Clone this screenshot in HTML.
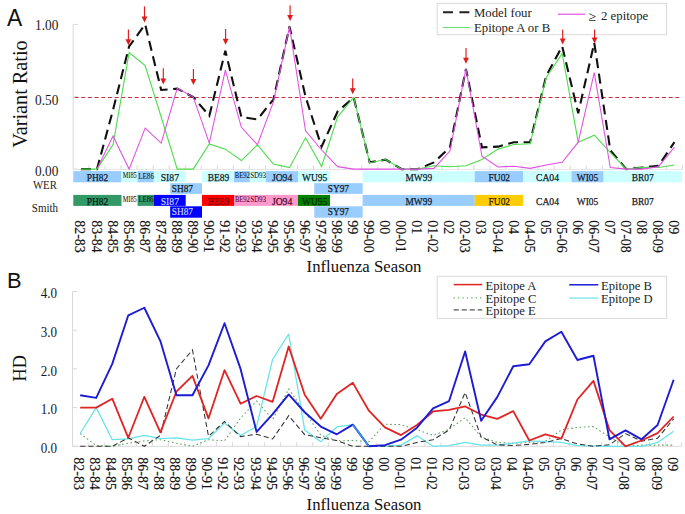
<!DOCTYPE html>
<html><head><meta charset="utf-8"><style>
html,body{margin:0;padding:0;background:#fff;width:685px;height:514px;overflow:hidden;}
svg{display:block;}

</style></head><body>
<svg width="685" height="514" viewBox="0 0 685 514">
<text x="6.9" y="25.8" font-family="Liberation Sans, sans-serif" font-size="23.2" fill="#111" textLength="15.2" lengthAdjust="spacingAndGlyphs">A</text>
<line x1="73.2" y1="24.4" x2="73.2" y2="169.4" stroke="#d9d9d9" stroke-width="1"/>
<line x1="73.2" y1="24.40" x2="78" y2="24.40" stroke="#d9d9d9" stroke-width="1"/>
<line x1="73.2" y1="96.75" x2="78" y2="96.75" stroke="#d9d9d9" stroke-width="1"/>
<line x1="73.2" y1="169.10" x2="78" y2="169.10" stroke="#d9d9d9" stroke-width="1"/>
<line x1="73.2" y1="169.4" x2="682.5" y2="169.4" stroke="#e4e4e4" stroke-width="1"/>
<line x1="89.00" y1="165.3" x2="89.00" y2="169.4" stroke="#d9d9d9" stroke-width="1"/>
<line x1="105.04" y1="165.3" x2="105.04" y2="169.4" stroke="#d9d9d9" stroke-width="1"/>
<line x1="121.08" y1="165.3" x2="121.08" y2="169.4" stroke="#d9d9d9" stroke-width="1"/>
<line x1="137.12" y1="165.3" x2="137.12" y2="169.4" stroke="#d9d9d9" stroke-width="1"/>
<line x1="153.16" y1="165.3" x2="153.16" y2="169.4" stroke="#d9d9d9" stroke-width="1"/>
<line x1="169.20" y1="165.3" x2="169.20" y2="169.4" stroke="#d9d9d9" stroke-width="1"/>
<line x1="185.24" y1="165.3" x2="185.24" y2="169.4" stroke="#d9d9d9" stroke-width="1"/>
<line x1="201.28" y1="165.3" x2="201.28" y2="169.4" stroke="#d9d9d9" stroke-width="1"/>
<line x1="217.32" y1="165.3" x2="217.32" y2="169.4" stroke="#d9d9d9" stroke-width="1"/>
<line x1="233.36" y1="165.3" x2="233.36" y2="169.4" stroke="#d9d9d9" stroke-width="1"/>
<line x1="249.40" y1="165.3" x2="249.40" y2="169.4" stroke="#d9d9d9" stroke-width="1"/>
<line x1="265.44" y1="165.3" x2="265.44" y2="169.4" stroke="#d9d9d9" stroke-width="1"/>
<line x1="281.48" y1="165.3" x2="281.48" y2="169.4" stroke="#d9d9d9" stroke-width="1"/>
<line x1="297.52" y1="165.3" x2="297.52" y2="169.4" stroke="#d9d9d9" stroke-width="1"/>
<line x1="313.56" y1="165.3" x2="313.56" y2="169.4" stroke="#d9d9d9" stroke-width="1"/>
<line x1="329.60" y1="165.3" x2="329.60" y2="169.4" stroke="#d9d9d9" stroke-width="1"/>
<line x1="345.64" y1="165.3" x2="345.64" y2="169.4" stroke="#d9d9d9" stroke-width="1"/>
<line x1="361.68" y1="165.3" x2="361.68" y2="169.4" stroke="#d9d9d9" stroke-width="1"/>
<line x1="377.72" y1="165.3" x2="377.72" y2="169.4" stroke="#d9d9d9" stroke-width="1"/>
<line x1="393.76" y1="165.3" x2="393.76" y2="169.4" stroke="#d9d9d9" stroke-width="1"/>
<line x1="409.80" y1="165.3" x2="409.80" y2="169.4" stroke="#d9d9d9" stroke-width="1"/>
<line x1="425.84" y1="165.3" x2="425.84" y2="169.4" stroke="#d9d9d9" stroke-width="1"/>
<line x1="441.88" y1="165.3" x2="441.88" y2="169.4" stroke="#d9d9d9" stroke-width="1"/>
<line x1="457.92" y1="165.3" x2="457.92" y2="169.4" stroke="#d9d9d9" stroke-width="1"/>
<line x1="473.96" y1="165.3" x2="473.96" y2="169.4" stroke="#d9d9d9" stroke-width="1"/>
<line x1="490.00" y1="165.3" x2="490.00" y2="169.4" stroke="#d9d9d9" stroke-width="1"/>
<line x1="506.04" y1="165.3" x2="506.04" y2="169.4" stroke="#d9d9d9" stroke-width="1"/>
<line x1="522.08" y1="165.3" x2="522.08" y2="169.4" stroke="#d9d9d9" stroke-width="1"/>
<line x1="538.12" y1="165.3" x2="538.12" y2="169.4" stroke="#d9d9d9" stroke-width="1"/>
<line x1="554.16" y1="165.3" x2="554.16" y2="169.4" stroke="#d9d9d9" stroke-width="1"/>
<line x1="570.20" y1="165.3" x2="570.20" y2="169.4" stroke="#d9d9d9" stroke-width="1"/>
<line x1="586.24" y1="165.3" x2="586.24" y2="169.4" stroke="#d9d9d9" stroke-width="1"/>
<line x1="602.28" y1="165.3" x2="602.28" y2="169.4" stroke="#d9d9d9" stroke-width="1"/>
<line x1="618.32" y1="165.3" x2="618.32" y2="169.4" stroke="#d9d9d9" stroke-width="1"/>
<line x1="634.36" y1="165.3" x2="634.36" y2="169.4" stroke="#d9d9d9" stroke-width="1"/>
<line x1="650.40" y1="165.3" x2="650.40" y2="169.4" stroke="#d9d9d9" stroke-width="1"/>
<line x1="666.44" y1="165.3" x2="666.44" y2="169.4" stroke="#d9d9d9" stroke-width="1"/>
<line x1="682.48" y1="165.3" x2="682.48" y2="169.4" stroke="#d9d9d9" stroke-width="1"/>
<text x="35.0" y="30.2" font-family="Liberation Serif, serif" font-size="14.5" fill="#1a1a1a" textLength="23.3" lengthAdjust="spacingAndGlyphs">1.00</text>
<text x="35.0" y="104.5" font-family="Liberation Serif, serif" font-size="14.5" fill="#1a1a1a" textLength="23.3" lengthAdjust="spacingAndGlyphs">0.50</text>
<text x="35.0" y="176.4" font-family="Liberation Serif, serif" font-size="14.5" fill="#1a1a1a" textLength="23.3" lengthAdjust="spacingAndGlyphs">0.00</text>
<text transform="translate(27.2,147.7) rotate(-90)" font-family="Liberation Serif, serif" font-size="21.4" fill="#111" textLength="107.4" lengthAdjust="spacingAndGlyphs">Variant Ratio</text>
<line x1="74.6" y1="97.5" x2="679.4" y2="97.5" stroke="#c8303f" stroke-width="1.2" stroke-dasharray="3.95,2.725"/>
<rect x="437.2" y="3.4" width="229.4" height="31.3" fill="#fff" stroke="#dadada" stroke-width="1"/>
<line x1="443" y1="12.3" x2="470" y2="12.3" stroke="#222" stroke-width="1.9" stroke-dasharray="10,6.4"/>
<text x="474" y="16.8" font-family="Liberation Serif, serif" font-size="12.75" fill="#222">Model four</text>
<line x1="443" y1="27.5" x2="470" y2="27.5" stroke="#6ee06e" stroke-width="1.1"/>
<text x="474" y="32.0" font-family="Liberation Serif, serif" font-size="12.75" fill="#222">Epitope A or B</text>
<line x1="558" y1="14.2" x2="585.4" y2="14.2" stroke="#e055e0" stroke-width="1.2"/>
<text x="588.6" y="21.0" font-family="Liberation Serif, serif" font-size="13.6" fill="#222">≥</text>
<text x="601" y="19.6" font-family="Liberation Serif, serif" font-size="12.8" fill="#222">2 epitope</text>
<polyline points="80.98,169.10 97.02,169.10 113.06,109.77 129.10,46.39 145.14,24.40 161.18,89.95 177.22,88.65 193.26,97.04 209.30,115.85 225.34,50.74 241.38,117.01 257.42,119.47 273.46,99.35 289.50,26.57 305.54,96.75 321.58,146.67 337.62,111.51 353.66,97.47 369.70,162.30 385.74,159.69 401.78,169.10 417.82,169.10 433.86,162.44 449.90,147.39 465.94,68.97 481.98,147.39 498.02,146.67 514.06,142.19 530.10,142.19 546.14,76.06 562.18,46.25 578.22,113.25 594.26,42.78 610.30,150.29 626.34,169.10 642.38,167.51 658.42,165.77 674.46,142.19" fill="none" stroke="#111" stroke-width="2.1" stroke-dasharray="10,5.6"/>
<polyline points="80.98,169.10 97.02,169.10 113.06,144.50 129.10,52.62 145.14,65.64 161.18,117.01 177.22,169.10 193.26,169.10 209.30,143.92 225.34,149.13 241.38,160.56 257.42,144.79 273.46,164.04 289.50,167.65 305.54,137.84 321.58,166.64 337.62,116.86 353.66,97.47 369.70,162.73 385.74,159.55 401.78,169.10 417.82,169.10 433.86,165.77 449.90,166.78 465.94,165.77 481.98,159.55 498.02,149.13 514.06,144.50 530.10,143.78 546.14,77.79 562.18,53.34 578.22,142.19 594.26,135.24 610.30,152.46 626.34,169.10 642.38,167.36 658.42,167.51 674.46,165.05" fill="none" stroke="#4cdc4c" stroke-width="1.1" stroke-linejoin="miter"/>
<polyline points="97.02,169.10 113.06,135.96 129.10,169.10 145.14,128.15 161.18,143.05 177.22,88.36 193.26,97.04 209.30,143.05 225.34,70.13 241.38,127.28 257.42,144.79 273.46,101.96 289.50,26.57 305.54,130.75 321.58,150.00 337.62,166.64 353.66,169.10 369.70,169.10 385.74,169.10 401.78,169.10 417.82,169.10 433.86,168.38 449.90,151.01 465.94,68.97 481.98,156.22 498.02,166.93 514.06,166.21 530.10,168.38 546.14,165.05 562.18,162.30 578.22,142.19 594.26,72.59 610.30,167.51 626.34,169.10 642.38,169.10 658.42,166.64 674.46,147.11" fill="none" stroke="#e050e0" stroke-width="1.05"/>
<line x1="128.4" y1="29.4" x2="128.4" y2="40.2" stroke="#e01b1b" stroke-width="1.15"/>
<polygon points="125.5,39.2 131.3,39.2 128.4,45.2" fill="#e01b1b"/>
<line x1="144.5" y1="6.4" x2="144.5" y2="17.5" stroke="#e01b1b" stroke-width="1.15"/>
<polygon points="141.6,16.5 147.4,16.5 144.5,22.5" fill="#e01b1b"/>
<line x1="163.3" y1="68.3" x2="163.3" y2="79.5" stroke="#e01b1b" stroke-width="1.15"/>
<polygon points="160.4,78.5 166.20000000000002,78.5 163.3,84.5" fill="#e01b1b"/>
<line x1="193.4" y1="69" x2="193.4" y2="79.9" stroke="#e01b1b" stroke-width="1.15"/>
<polygon points="190.5,78.9 196.3,78.9 193.4,84.9" fill="#e01b1b"/>
<line x1="225.6" y1="28.9" x2="225.6" y2="39.7" stroke="#e01b1b" stroke-width="1.15"/>
<polygon points="222.7,38.7 228.5,38.7 225.6,44.7" fill="#e01b1b"/>
<line x1="290.1" y1="5.3" x2="290.1" y2="15.899999999999999" stroke="#e01b1b" stroke-width="1.15"/>
<polygon points="287.20000000000005,14.899999999999999 293.0,14.899999999999999 290.1,20.9" fill="#e01b1b"/>
<line x1="352.7" y1="78.5" x2="352.7" y2="89.2" stroke="#e01b1b" stroke-width="1.15"/>
<polygon points="349.8,88.2 355.59999999999997,88.2 352.7,94.2" fill="#e01b1b"/>
<line x1="466" y1="47.9" x2="466" y2="58.7" stroke="#e01b1b" stroke-width="1.15"/>
<polygon points="463.1,57.7 468.9,57.7 466,63.7" fill="#e01b1b"/>
<line x1="562.7" y1="29.6" x2="562.7" y2="39.5" stroke="#e01b1b" stroke-width="1.15"/>
<polygon points="559.8000000000001,38.5 565.6,38.5 562.7,44.5" fill="#e01b1b"/>
<line x1="594.6" y1="29.6" x2="594.6" y2="38.5" stroke="#e01b1b" stroke-width="1.15"/>
<polygon points="591.7,37.5 597.5,37.5 594.6,43.5" fill="#e01b1b"/>
<rect x="73.30" y="171.1" width="48.20" height="11.20" fill="#99ccff"/>
<rect x="121.50" y="171.1" width="16.10" height="11.20" fill="#ccffff"/>
<rect x="137.60" y="171.1" width="16.10" height="11.20" fill="#99ccff"/>
<rect x="153.70" y="171.1" width="32.00" height="11.20" fill="#ccffff"/>
<rect x="202.00" y="171.1" width="32.00" height="11.20" fill="#ccffff"/>
<rect x="234.00" y="171.1" width="15.90" height="11.20" fill="#99ccff"/>
<rect x="249.90" y="171.1" width="16.00" height="11.20" fill="#ccffff"/>
<rect x="265.90" y="171.1" width="32.10" height="11.20" fill="#99ccff"/>
<rect x="298.00" y="171.1" width="32.00" height="11.20" fill="#ccffff"/>
<rect x="362.60" y="171.1" width="112.10" height="11.20" fill="#ccffff"/>
<rect x="474.70" y="171.1" width="48.30" height="11.20" fill="#99ccff"/>
<rect x="523.00" y="171.1" width="48.50" height="11.20" fill="#ccffff"/>
<rect x="571.50" y="171.1" width="32.10" height="11.20" fill="#99ccff"/>
<rect x="603.60" y="171.1" width="78.40" height="11.20" fill="#ccffff"/>
<rect x="170.20" y="183.2" width="31.80" height="10.70" fill="#99ccff"/>
<rect x="314.30" y="183.2" width="48.30" height="10.70" fill="#99ccff"/>
<rect x="73.30" y="194.9" width="48.20" height="11.00" fill="#339966"/>
<rect x="137.60" y="194.9" width="16.10" height="11.00" fill="#339966"/>
<rect x="153.70" y="194.9" width="32.00" height="11.00" fill="#0000ff"/>
<rect x="202.00" y="194.9" width="32.00" height="11.00" fill="#ff0000"/>
<rect x="234.00" y="194.9" width="64.00" height="11.00" fill="#ff99cc"/>
<rect x="298.00" y="194.9" width="32.00" height="11.00" fill="#008000"/>
<rect x="362.60" y="194.9" width="112.10" height="11.00" fill="#99ccff"/>
<rect x="474.70" y="194.9" width="48.30" height="11.00" fill="#ffcc00"/>
<rect x="170.20" y="206.3" width="31.80" height="11.40" fill="#0000ff"/>
<rect x="314.30" y="206.3" width="48.30" height="11.40" fill="#99ccff"/>
<text x="86.80" y="181.2" font-family="Liberation Serif, serif" font-size="10.4" fill="#0e1c2a" textLength="21.50" lengthAdjust="spacingAndGlyphs" stroke="#0e1c2a" stroke-width="0.25">PH82</text>
<text x="122.70" y="178.4" font-family="Liberation Serif, serif" font-size="7.6" fill="#0e1c2a" textLength="14.00" lengthAdjust="spacingAndGlyphs" stroke="#0e1c2a" stroke-width="0.08">MI85</text>
<text x="138.30" y="178.70000000000002" font-family="Liberation Serif, serif" font-size="7.6" fill="#0e1c2a" textLength="15.60" lengthAdjust="spacingAndGlyphs" stroke="#0e1c2a" stroke-width="0.08">LE86</text>
<text x="160.70" y="181.2" font-family="Liberation Serif, serif" font-size="10.4" fill="#0e1c2a" textLength="18.30" lengthAdjust="spacingAndGlyphs" stroke="#0e1c2a" stroke-width="0.25">SI87</text>
<text x="207.70" y="181.2" font-family="Liberation Serif, serif" font-size="10.4" fill="#0e1c2a" textLength="21.60" lengthAdjust="spacingAndGlyphs" stroke="#0e1c2a" stroke-width="0.25">BE89</text>
<text x="234.70" y="178.4" font-family="Liberation Serif, serif" font-size="7.6" fill="#0e1c2a" textLength="15.20" lengthAdjust="spacingAndGlyphs" stroke="#0e1c2a" stroke-width="0.08">BE92</text>
<text x="250.20" y="178.4" font-family="Liberation Serif, serif" font-size="7.6" fill="#0e1c2a" textLength="15.90" lengthAdjust="spacingAndGlyphs" stroke="#0e1c2a" stroke-width="0.08">SD93</text>
<text x="271.90" y="181.2" font-family="Liberation Serif, serif" font-size="10.4" fill="#0e1c2a" textLength="20.40" lengthAdjust="spacingAndGlyphs" stroke="#0e1c2a" stroke-width="0.25">JO94</text>
<text x="302.10" y="181.2" font-family="Liberation Serif, serif" font-size="10.4" fill="#0e1c2a" textLength="25.20" lengthAdjust="spacingAndGlyphs" stroke="#0e1c2a" stroke-width="0.25">WU95</text>
<text x="405.50" y="181.2" font-family="Liberation Serif, serif" font-size="10.4" fill="#0e1c2a" textLength="26.60" lengthAdjust="spacingAndGlyphs" stroke="#0e1c2a" stroke-width="0.25">MW99</text>
<text x="488.60" y="181.2" font-family="Liberation Serif, serif" font-size="10.4" fill="#0e1c2a" textLength="21.50" lengthAdjust="spacingAndGlyphs" stroke="#0e1c2a" stroke-width="0.25">FU02</text>
<text x="536.00" y="181.2" font-family="Liberation Serif, serif" font-size="10.4" fill="#0e1c2a" textLength="23.00" lengthAdjust="spacingAndGlyphs" stroke="#0e1c2a" stroke-width="0.25">CA04</text>
<text x="576.80" y="181.2" font-family="Liberation Serif, serif" font-size="10.4" fill="#0e1c2a" textLength="21.50" lengthAdjust="spacingAndGlyphs" stroke="#0e1c2a" stroke-width="0.25">WI05</text>
<text x="631.70" y="181.2" font-family="Liberation Serif, serif" font-size="10.4" fill="#0e1c2a" textLength="22.00" lengthAdjust="spacingAndGlyphs" stroke="#0e1c2a" stroke-width="0.25">BR07</text>
<text x="171.70" y="192.0" font-family="Liberation Serif, serif" font-size="10.4" fill="#0e1c2a" textLength="21.30" lengthAdjust="spacingAndGlyphs" stroke="#0e1c2a" stroke-width="0.25">SH87</text>
<text x="327.80" y="192.0" font-family="Liberation Serif, serif" font-size="10.4" fill="#0e1c2a" textLength="21.20" lengthAdjust="spacingAndGlyphs" stroke="#0e1c2a" stroke-width="0.25">SY97</text>
<text x="86.80" y="204.6" font-family="Liberation Serif, serif" font-size="10.4" fill="#06241a" textLength="21.50" lengthAdjust="spacingAndGlyphs" stroke="#06241a" stroke-width="0.25">PH82</text>
<text x="122.70" y="201.8" font-family="Liberation Serif, serif" font-size="7.6" fill="#1a1a1a" textLength="14.00" lengthAdjust="spacingAndGlyphs" stroke="#1a1a1a" stroke-width="0.08">MI85</text>
<text x="138.50" y="202.4" font-family="Liberation Serif, serif" font-size="7.6" fill="#06241a" textLength="15.00" lengthAdjust="spacingAndGlyphs" stroke="#06241a" stroke-width="0.08">LE86</text>
<text x="160.70" y="204.6" font-family="Liberation Serif, serif" font-size="10.4" fill="#d4dcff" textLength="18.30" lengthAdjust="spacingAndGlyphs" stroke="#d4dcff" stroke-width="0.15">SI87</text>
<text x="207.70" y="204.6" font-family="Liberation Serif, serif" font-size="10.4" fill="#780808" textLength="21.60" lengthAdjust="spacingAndGlyphs" stroke="#780808" stroke-width="0.25">BE89</text>
<text x="235.00" y="201.8" font-family="Liberation Serif, serif" font-size="7.6" fill="#5a0a3a" textLength="14.90" lengthAdjust="spacingAndGlyphs" stroke="#5a0a3a" stroke-width="0.08">BE92</text>
<text x="250.20" y="201.8" font-family="Liberation Serif, serif" font-size="7.6" fill="#5a0a3a" textLength="15.90" lengthAdjust="spacingAndGlyphs" stroke="#5a0a3a" stroke-width="0.08">SD93</text>
<text x="271.90" y="204.6" font-family="Liberation Serif, serif" font-size="10.4" fill="#4a0a2a" textLength="20.40" lengthAdjust="spacingAndGlyphs" stroke="#4a0a2a" stroke-width="0.25">JO94</text>
<text x="302.10" y="204.6" font-family="Liberation Serif, serif" font-size="10.4" fill="#062a0a" textLength="25.20" lengthAdjust="spacingAndGlyphs" stroke="#062a0a" stroke-width="0.25">WU95</text>
<text x="405.50" y="204.6" font-family="Liberation Serif, serif" font-size="10.4" fill="#0e1c2a" textLength="26.60" lengthAdjust="spacingAndGlyphs" stroke="#0e1c2a" stroke-width="0.25">MW99</text>
<text x="488.60" y="204.6" font-family="Liberation Serif, serif" font-size="10.4" fill="#2e2000" textLength="21.50" lengthAdjust="spacingAndGlyphs" stroke="#2e2000" stroke-width="0.25">FU02</text>
<text x="536.00" y="204.6" font-family="Liberation Serif, serif" font-size="10.4" fill="#1a1a1a" textLength="23.00" lengthAdjust="spacingAndGlyphs" stroke="#1a1a1a" stroke-width="0.25">CA04</text>
<text x="576.80" y="204.6" font-family="Liberation Serif, serif" font-size="10.4" fill="#1a1a1a" textLength="21.50" lengthAdjust="spacingAndGlyphs" stroke="#1a1a1a" stroke-width="0.25">WI05</text>
<text x="631.70" y="204.6" font-family="Liberation Serif, serif" font-size="10.4" fill="#1a1a1a" textLength="22.00" lengthAdjust="spacingAndGlyphs" stroke="#1a1a1a" stroke-width="0.25">BR07</text>
<text x="171.70" y="215.3" font-family="Liberation Serif, serif" font-size="10.4" fill="#d4dcff" textLength="21.30" lengthAdjust="spacingAndGlyphs" stroke="#d4dcff" stroke-width="0.15">SH87</text>
<text x="327.80" y="215.3" font-family="Liberation Serif, serif" font-size="10.4" fill="#0e1c2a" textLength="21.20" lengthAdjust="spacingAndGlyphs" stroke="#0e1c2a" stroke-width="0.25">SY97</text>
<text x="33.0" y="188.5" font-family="Liberation Serif, serif" font-size="11.8" fill="#1a1a1a" textLength="23.8" lengthAdjust="spacingAndGlyphs">WER</text>
<text x="31.8" y="212.2" font-family="Liberation Serif, serif" font-size="11.8" fill="#1a1a1a" textLength="26.2" lengthAdjust="spacingAndGlyphs">Smith</text>
<text transform="translate(75.48,220.2) rotate(90) scale(1.028,1)" font-family="Liberation Serif, serif" font-size="13.6" fill="#111" stroke="#111" stroke-width="0.15">82-83</text>
<text transform="translate(91.52,220.2) rotate(90) scale(1.028,1)" font-family="Liberation Serif, serif" font-size="13.6" fill="#111" stroke="#111" stroke-width="0.15">83-84</text>
<text transform="translate(107.56,220.2) rotate(90) scale(1.028,1)" font-family="Liberation Serif, serif" font-size="13.6" fill="#111" stroke="#111" stroke-width="0.15">84-85</text>
<text transform="translate(123.60,220.2) rotate(90) scale(1.028,1)" font-family="Liberation Serif, serif" font-size="13.6" fill="#111" stroke="#111" stroke-width="0.15">85-86</text>
<text transform="translate(139.64,220.2) rotate(90) scale(1.028,1)" font-family="Liberation Serif, serif" font-size="13.6" fill="#111" stroke="#111" stroke-width="0.15">86-87</text>
<text transform="translate(155.68,220.2) rotate(90) scale(1.028,1)" font-family="Liberation Serif, serif" font-size="13.6" fill="#111" stroke="#111" stroke-width="0.15">87-88</text>
<text transform="translate(171.72,220.2) rotate(90) scale(1.028,1)" font-family="Liberation Serif, serif" font-size="13.6" fill="#111" stroke="#111" stroke-width="0.15">88-89</text>
<text transform="translate(187.76,220.2) rotate(90) scale(1.028,1)" font-family="Liberation Serif, serif" font-size="13.6" fill="#111" stroke="#111" stroke-width="0.15">89-90</text>
<text transform="translate(203.80,220.2) rotate(90) scale(1.028,1)" font-family="Liberation Serif, serif" font-size="13.6" fill="#111" stroke="#111" stroke-width="0.15">90-91</text>
<text transform="translate(219.84,220.2) rotate(90) scale(1.028,1)" font-family="Liberation Serif, serif" font-size="13.6" fill="#111" stroke="#111" stroke-width="0.15">91-92</text>
<text transform="translate(235.88,220.2) rotate(90) scale(1.028,1)" font-family="Liberation Serif, serif" font-size="13.6" fill="#111" stroke="#111" stroke-width="0.15">92-93</text>
<text transform="translate(251.92,220.2) rotate(90) scale(1.028,1)" font-family="Liberation Serif, serif" font-size="13.6" fill="#111" stroke="#111" stroke-width="0.15">93-94</text>
<text transform="translate(267.96,220.2) rotate(90) scale(1.028,1)" font-family="Liberation Serif, serif" font-size="13.6" fill="#111" stroke="#111" stroke-width="0.15">94-95</text>
<text transform="translate(284.00,220.2) rotate(90) scale(1.028,1)" font-family="Liberation Serif, serif" font-size="13.6" fill="#111" stroke="#111" stroke-width="0.15">95-96</text>
<text transform="translate(300.04,220.2) rotate(90) scale(1.028,1)" font-family="Liberation Serif, serif" font-size="13.6" fill="#111" stroke="#111" stroke-width="0.15">96-97</text>
<text transform="translate(316.08,220.2) rotate(90) scale(1.028,1)" font-family="Liberation Serif, serif" font-size="13.6" fill="#111" stroke="#111" stroke-width="0.15">97-98</text>
<text transform="translate(332.12,220.2) rotate(90) scale(1.028,1)" font-family="Liberation Serif, serif" font-size="13.6" fill="#111" stroke="#111" stroke-width="0.15">98-99</text>
<text transform="translate(348.16,220.2) rotate(90) scale(1.028,1)" font-family="Liberation Serif, serif" font-size="13.6" fill="#111" stroke="#111" stroke-width="0.15">99</text>
<text transform="translate(364.20,220.2) rotate(90) scale(1.028,1)" font-family="Liberation Serif, serif" font-size="13.6" fill="#111" stroke="#111" stroke-width="0.15">99-00</text>
<text transform="translate(380.24,220.2) rotate(90) scale(1.028,1)" font-family="Liberation Serif, serif" font-size="13.6" fill="#111" stroke="#111" stroke-width="0.15">00</text>
<text transform="translate(396.28,220.2) rotate(90) scale(1.028,1)" font-family="Liberation Serif, serif" font-size="13.6" fill="#111" stroke="#111" stroke-width="0.15">00-01</text>
<text transform="translate(412.32,220.2) rotate(90) scale(1.028,1)" font-family="Liberation Serif, serif" font-size="13.6" fill="#111" stroke="#111" stroke-width="0.15">01</text>
<text transform="translate(428.36,220.2) rotate(90) scale(1.028,1)" font-family="Liberation Serif, serif" font-size="13.6" fill="#111" stroke="#111" stroke-width="0.15">01-02</text>
<text transform="translate(444.40,220.2) rotate(90) scale(1.028,1)" font-family="Liberation Serif, serif" font-size="13.6" fill="#111" stroke="#111" stroke-width="0.15">02</text>
<text transform="translate(460.44,220.2) rotate(90) scale(1.028,1)" font-family="Liberation Serif, serif" font-size="13.6" fill="#111" stroke="#111" stroke-width="0.15">02-03</text>
<text transform="translate(476.48,220.2) rotate(90) scale(1.028,1)" font-family="Liberation Serif, serif" font-size="13.6" fill="#111" stroke="#111" stroke-width="0.15">03</text>
<text transform="translate(492.52,220.2) rotate(90) scale(1.028,1)" font-family="Liberation Serif, serif" font-size="13.6" fill="#111" stroke="#111" stroke-width="0.15">03-04</text>
<text transform="translate(508.56,220.2) rotate(90) scale(1.028,1)" font-family="Liberation Serif, serif" font-size="13.6" fill="#111" stroke="#111" stroke-width="0.15">04</text>
<text transform="translate(524.60,220.2) rotate(90) scale(1.028,1)" font-family="Liberation Serif, serif" font-size="13.6" fill="#111" stroke="#111" stroke-width="0.15">04-05</text>
<text transform="translate(540.64,220.2) rotate(90) scale(1.028,1)" font-family="Liberation Serif, serif" font-size="13.6" fill="#111" stroke="#111" stroke-width="0.15">05</text>
<text transform="translate(556.68,220.2) rotate(90) scale(1.028,1)" font-family="Liberation Serif, serif" font-size="13.6" fill="#111" stroke="#111" stroke-width="0.15">05-06</text>
<text transform="translate(572.72,220.2) rotate(90) scale(1.028,1)" font-family="Liberation Serif, serif" font-size="13.6" fill="#111" stroke="#111" stroke-width="0.15">06</text>
<text transform="translate(588.76,220.2) rotate(90) scale(1.028,1)" font-family="Liberation Serif, serif" font-size="13.6" fill="#111" stroke="#111" stroke-width="0.15">06-07</text>
<text transform="translate(604.80,220.2) rotate(90) scale(1.028,1)" font-family="Liberation Serif, serif" font-size="13.6" fill="#111" stroke="#111" stroke-width="0.15">07</text>
<text transform="translate(620.84,220.2) rotate(90) scale(1.028,1)" font-family="Liberation Serif, serif" font-size="13.6" fill="#111" stroke="#111" stroke-width="0.15">07-08</text>
<text transform="translate(636.88,220.2) rotate(90) scale(1.028,1)" font-family="Liberation Serif, serif" font-size="13.6" fill="#111" stroke="#111" stroke-width="0.15">08</text>
<text transform="translate(652.92,220.2) rotate(90) scale(1.028,1)" font-family="Liberation Serif, serif" font-size="13.6" fill="#111" stroke="#111" stroke-width="0.15">08-09</text>
<text transform="translate(668.96,220.2) rotate(90) scale(1.028,1)" font-family="Liberation Serif, serif" font-size="13.6" fill="#111" stroke="#111" stroke-width="0.15">09</text>
<text x="306.6" y="272.4" font-family="Liberation Serif, serif" font-size="17" fill="#111" textLength="114.8" lengthAdjust="spacingAndGlyphs">Influenza Season</text>
<text x="7.0" y="287.7" font-family="Liberation Sans, sans-serif" font-size="22.8" fill="#111" textLength="14.6" lengthAdjust="spacingAndGlyphs">B</text>
<line x1="72.5" y1="291.5" x2="72.5" y2="446.3" stroke="#d9d9d9" stroke-width="1"/>
<line x1="72.5" y1="446.30" x2="77" y2="446.30" stroke="#d9d9d9" stroke-width="1"/>
<text x="40.8" y="453.00" font-family="Liberation Serif, serif" font-size="14.5" fill="#1a1a1a" textLength="16.3" lengthAdjust="spacingAndGlyphs">0.0</text>
<line x1="72.5" y1="407.60" x2="77" y2="407.60" stroke="#d9d9d9" stroke-width="1"/>
<text x="40.8" y="414.30" font-family="Liberation Serif, serif" font-size="14.5" fill="#1a1a1a" textLength="16.3" lengthAdjust="spacingAndGlyphs">1.0</text>
<line x1="72.5" y1="368.90" x2="77" y2="368.90" stroke="#d9d9d9" stroke-width="1"/>
<text x="40.8" y="375.60" font-family="Liberation Serif, serif" font-size="14.5" fill="#1a1a1a" textLength="16.3" lengthAdjust="spacingAndGlyphs">2.0</text>
<line x1="72.5" y1="330.20" x2="77" y2="330.20" stroke="#d9d9d9" stroke-width="1"/>
<text x="40.8" y="336.90" font-family="Liberation Serif, serif" font-size="14.5" fill="#1a1a1a" textLength="16.3" lengthAdjust="spacingAndGlyphs">3.0</text>
<line x1="72.5" y1="291.50" x2="77" y2="291.50" stroke="#d9d9d9" stroke-width="1"/>
<text x="40.8" y="298.20" font-family="Liberation Serif, serif" font-size="14.5" fill="#1a1a1a" textLength="16.3" lengthAdjust="spacingAndGlyphs">4.0</text>
<line x1="72.5" y1="446.3" x2="681.7" y2="446.3" stroke="#d9d9d9" stroke-width="1"/>
<line x1="88.19" y1="442.3" x2="88.19" y2="446.3" stroke="#d9d9d9" stroke-width="1"/>
<line x1="104.23" y1="442.3" x2="104.23" y2="446.3" stroke="#d9d9d9" stroke-width="1"/>
<line x1="120.27" y1="442.3" x2="120.27" y2="446.3" stroke="#d9d9d9" stroke-width="1"/>
<line x1="136.31" y1="442.3" x2="136.31" y2="446.3" stroke="#d9d9d9" stroke-width="1"/>
<line x1="152.35" y1="442.3" x2="152.35" y2="446.3" stroke="#d9d9d9" stroke-width="1"/>
<line x1="168.39" y1="442.3" x2="168.39" y2="446.3" stroke="#d9d9d9" stroke-width="1"/>
<line x1="184.43" y1="442.3" x2="184.43" y2="446.3" stroke="#d9d9d9" stroke-width="1"/>
<line x1="200.47" y1="442.3" x2="200.47" y2="446.3" stroke="#d9d9d9" stroke-width="1"/>
<line x1="216.51" y1="442.3" x2="216.51" y2="446.3" stroke="#d9d9d9" stroke-width="1"/>
<line x1="232.55" y1="442.3" x2="232.55" y2="446.3" stroke="#d9d9d9" stroke-width="1"/>
<line x1="248.59" y1="442.3" x2="248.59" y2="446.3" stroke="#d9d9d9" stroke-width="1"/>
<line x1="264.63" y1="442.3" x2="264.63" y2="446.3" stroke="#d9d9d9" stroke-width="1"/>
<line x1="280.67" y1="442.3" x2="280.67" y2="446.3" stroke="#d9d9d9" stroke-width="1"/>
<line x1="296.71" y1="442.3" x2="296.71" y2="446.3" stroke="#d9d9d9" stroke-width="1"/>
<line x1="312.75" y1="442.3" x2="312.75" y2="446.3" stroke="#d9d9d9" stroke-width="1"/>
<line x1="328.79" y1="442.3" x2="328.79" y2="446.3" stroke="#d9d9d9" stroke-width="1"/>
<line x1="344.83" y1="442.3" x2="344.83" y2="446.3" stroke="#d9d9d9" stroke-width="1"/>
<line x1="360.87" y1="442.3" x2="360.87" y2="446.3" stroke="#d9d9d9" stroke-width="1"/>
<line x1="376.91" y1="442.3" x2="376.91" y2="446.3" stroke="#d9d9d9" stroke-width="1"/>
<line x1="392.95" y1="442.3" x2="392.95" y2="446.3" stroke="#d9d9d9" stroke-width="1"/>
<line x1="408.99" y1="442.3" x2="408.99" y2="446.3" stroke="#d9d9d9" stroke-width="1"/>
<line x1="425.03" y1="442.3" x2="425.03" y2="446.3" stroke="#d9d9d9" stroke-width="1"/>
<line x1="441.07" y1="442.3" x2="441.07" y2="446.3" stroke="#d9d9d9" stroke-width="1"/>
<line x1="457.11" y1="442.3" x2="457.11" y2="446.3" stroke="#d9d9d9" stroke-width="1"/>
<line x1="473.15" y1="442.3" x2="473.15" y2="446.3" stroke="#d9d9d9" stroke-width="1"/>
<line x1="489.19" y1="442.3" x2="489.19" y2="446.3" stroke="#d9d9d9" stroke-width="1"/>
<line x1="505.23" y1="442.3" x2="505.23" y2="446.3" stroke="#d9d9d9" stroke-width="1"/>
<line x1="521.27" y1="442.3" x2="521.27" y2="446.3" stroke="#d9d9d9" stroke-width="1"/>
<line x1="537.31" y1="442.3" x2="537.31" y2="446.3" stroke="#d9d9d9" stroke-width="1"/>
<line x1="553.35" y1="442.3" x2="553.35" y2="446.3" stroke="#d9d9d9" stroke-width="1"/>
<line x1="569.39" y1="442.3" x2="569.39" y2="446.3" stroke="#d9d9d9" stroke-width="1"/>
<line x1="585.43" y1="442.3" x2="585.43" y2="446.3" stroke="#d9d9d9" stroke-width="1"/>
<line x1="601.47" y1="442.3" x2="601.47" y2="446.3" stroke="#d9d9d9" stroke-width="1"/>
<line x1="617.51" y1="442.3" x2="617.51" y2="446.3" stroke="#d9d9d9" stroke-width="1"/>
<line x1="633.55" y1="442.3" x2="633.55" y2="446.3" stroke="#d9d9d9" stroke-width="1"/>
<line x1="649.59" y1="442.3" x2="649.59" y2="446.3" stroke="#d9d9d9" stroke-width="1"/>
<line x1="665.63" y1="442.3" x2="665.63" y2="446.3" stroke="#d9d9d9" stroke-width="1"/>
<line x1="681.67" y1="442.3" x2="681.67" y2="446.3" stroke="#d9d9d9" stroke-width="1"/>
<text transform="translate(26.3,381.5) rotate(-90)" font-family="Liberation Serif, serif" font-size="19.3" fill="#111" textLength="26.3" lengthAdjust="spacingAndGlyphs">HD</text>
<rect x="437.2" y="276.3" width="229.4" height="42.1" fill="#fff" stroke="#dadada" stroke-width="1"/>
<line x1="453.7" y1="284.6" x2="482.2" y2="284.6" stroke="#e02424" stroke-width="1.5"/>
<line x1="453.7" y1="297.9" x2="482.2" y2="297.9" stroke="#5aa85a" stroke-width="1.1" stroke-dasharray="1.2,3.2"/>
<line x1="453.7" y1="309.8" x2="482.2" y2="309.8" stroke="#555" stroke-width="1.2" stroke-dasharray="5,3"/>
<line x1="569.2" y1="284.8" x2="598.3" y2="284.8" stroke="#1c1cd4" stroke-width="1.5"/>
<line x1="569.2" y1="298.1" x2="598.3" y2="298.1" stroke="#8ae8ec" stroke-width="1.5"/>
<text x="485.6" y="289.9" font-family="Liberation Serif, serif" font-size="12.62" fill="#222">Epitope A</text>
<text x="485.6" y="302.9" font-family="Liberation Serif, serif" font-size="12.62" fill="#222">Epitope C</text>
<text x="485.6" y="315.0" font-family="Liberation Serif, serif" font-size="12.62" fill="#222">Epitope E</text>
<text x="601.1" y="289.9" font-family="Liberation Serif, serif" font-size="12.62" fill="#222">Epitope B</text>
<text x="601.1" y="302.9" font-family="Liberation Serif, serif" font-size="12.62" fill="#222">Epitope D</text>
<polyline points="80.17,433.53 96.21,445.53 112.25,446.30 128.29,443.20 144.33,440.88 160.37,439.72 176.41,443.20 192.45,446.30 208.49,439.72 224.53,440.88 240.57,418.05 256.61,401.02 272.65,419.21 288.69,389.02 304.73,411.86 320.77,435.08 336.81,440.88 352.85,440.50 368.89,441.66 384.93,424.24 400.97,424.63 417.01,429.66 433.05,435.46 449.09,429.27 465.13,417.66 481.17,437.01 497.21,442.43 513.25,443.20 529.29,442.43 545.33,441.27 561.37,430.05 577.41,427.34 593.45,426.56 609.49,437.01 625.53,446.30 641.57,445.14 657.61,445.14 673.65,445.14" fill="none" stroke="#5e9e5e" stroke-width="1.05" stroke-dasharray="1.6,2.6"/>
<polyline points="80.17,433.53 96.21,407.60 112.25,439.72 128.29,438.95 144.33,435.46 160.37,438.56 176.41,437.79 192.45,440.11 208.49,438.56 224.53,423.08 240.57,435.46 256.61,426.56 272.65,359.23 288.69,334.07 304.73,430.05 320.77,441.66 336.81,426.95 352.85,424.63 368.89,446.30 384.93,446.30 400.97,445.14 417.01,435.85 433.05,446.30 449.09,445.53 465.13,442.43 481.17,445.14 497.21,445.14 513.25,443.20 529.29,440.88 545.33,441.66 561.37,442.43 577.41,445.53 593.45,445.91 609.49,446.30 625.53,446.30 641.57,446.30 657.61,442.43 673.65,431.21" fill="none" stroke="#66e4e8" stroke-width="1.25" stroke-linejoin="round"/>
<polyline points="80.17,446.30 96.21,446.30 112.25,446.30 128.29,437.79 144.33,446.30 160.37,435.46 176.41,368.90 192.45,349.94 208.49,436.24 224.53,421.53 240.57,436.62 256.61,434.30 272.65,438.95 288.69,415.73 304.73,434.69 320.77,437.79 336.81,440.50 352.85,446.30 368.89,446.30 384.93,446.30 400.97,446.30 417.01,442.43 433.05,439.72 449.09,430.05 465.13,392.51 481.17,437.01 497.21,444.75 513.25,445.53 529.29,444.37 545.33,442.43 561.37,438.56 577.41,443.98 593.45,446.30 609.49,444.75 625.53,433.53 641.57,441.27 657.61,438.17 673.65,418.82" fill="none" stroke="#333" stroke-width="1.05" stroke-dasharray="5.2,3"/>
<polyline points="80.17,407.60 96.21,407.60 112.25,398.70 128.29,437.79 144.33,396.76 160.37,432.37 176.41,391.73 192.45,375.87 208.49,418.44 224.53,370.06 240.57,403.73 256.61,395.99 272.65,401.80 288.69,346.45 304.73,394.83 320.77,418.82 336.81,394.06 352.85,382.83 368.89,410.70 384.93,427.34 400.97,435.08 417.01,425.01 433.05,411.47 449.09,409.92 465.13,406.44 481.17,414.57 497.21,418.82 513.25,411.08 529.29,440.50 545.33,434.30 561.37,438.56 577.41,399.47 593.45,380.90 609.49,430.05 625.53,446.30 641.57,440.50 657.61,433.14 673.65,416.50" fill="none" stroke="#e02424" stroke-width="1.8" stroke-linejoin="round"/>
<polyline points="80.17,395.22 96.21,397.93 112.25,363.87 128.29,315.30 144.33,307.75 160.37,341.04 176.41,395.22 192.45,395.22 208.49,365.42 224.53,323.23 240.57,368.90 256.61,431.98 272.65,414.18 288.69,394.44 304.73,412.24 320.77,426.56 336.81,434.30 352.85,424.63 368.89,446.30 384.93,445.14 400.97,439.72 417.01,427.72 433.05,408.37 449.09,401.02 465.13,351.49 481.17,420.76 497.21,397.15 513.25,366.19 529.29,364.26 545.33,341.42 561.37,331.75 577.41,360.00 593.45,355.74 609.49,439.33 625.53,430.43 641.57,439.33 657.61,425.01 673.65,379.74" fill="none" stroke="#1c1cd4" stroke-width="1.9" stroke-linejoin="round"/>
<line x1="352.85" y1="424.63" x2="368.89" y2="446.30" stroke="#3a8ee2" stroke-width="1.9"/>
<text transform="translate(74.08,457.3) rotate(90) scale(1.028,1)" font-family="Liberation Serif, serif" font-size="13.6" fill="#111" stroke="#111" stroke-width="0.15">82-83</text>
<text transform="translate(90.12,457.3) rotate(90) scale(1.028,1)" font-family="Liberation Serif, serif" font-size="13.6" fill="#111" stroke="#111" stroke-width="0.15">83-84</text>
<text transform="translate(106.16,457.3) rotate(90) scale(1.028,1)" font-family="Liberation Serif, serif" font-size="13.6" fill="#111" stroke="#111" stroke-width="0.15">84-85</text>
<text transform="translate(122.20,457.3) rotate(90) scale(1.028,1)" font-family="Liberation Serif, serif" font-size="13.6" fill="#111" stroke="#111" stroke-width="0.15">85-86</text>
<text transform="translate(138.24,457.3) rotate(90) scale(1.028,1)" font-family="Liberation Serif, serif" font-size="13.6" fill="#111" stroke="#111" stroke-width="0.15">86-87</text>
<text transform="translate(154.28,457.3) rotate(90) scale(1.028,1)" font-family="Liberation Serif, serif" font-size="13.6" fill="#111" stroke="#111" stroke-width="0.15">87-88</text>
<text transform="translate(170.32,457.3) rotate(90) scale(1.028,1)" font-family="Liberation Serif, serif" font-size="13.6" fill="#111" stroke="#111" stroke-width="0.15">88-89</text>
<text transform="translate(186.36,457.3) rotate(90) scale(1.028,1)" font-family="Liberation Serif, serif" font-size="13.6" fill="#111" stroke="#111" stroke-width="0.15">89-90</text>
<text transform="translate(202.40,457.3) rotate(90) scale(1.028,1)" font-family="Liberation Serif, serif" font-size="13.6" fill="#111" stroke="#111" stroke-width="0.15">90-91</text>
<text transform="translate(218.44,457.3) rotate(90) scale(1.028,1)" font-family="Liberation Serif, serif" font-size="13.6" fill="#111" stroke="#111" stroke-width="0.15">91-92</text>
<text transform="translate(234.48,457.3) rotate(90) scale(1.028,1)" font-family="Liberation Serif, serif" font-size="13.6" fill="#111" stroke="#111" stroke-width="0.15">92-93</text>
<text transform="translate(250.52,457.3) rotate(90) scale(1.028,1)" font-family="Liberation Serif, serif" font-size="13.6" fill="#111" stroke="#111" stroke-width="0.15">93-94</text>
<text transform="translate(266.56,457.3) rotate(90) scale(1.028,1)" font-family="Liberation Serif, serif" font-size="13.6" fill="#111" stroke="#111" stroke-width="0.15">94-95</text>
<text transform="translate(282.60,457.3) rotate(90) scale(1.028,1)" font-family="Liberation Serif, serif" font-size="13.6" fill="#111" stroke="#111" stroke-width="0.15">95-96</text>
<text transform="translate(298.64,457.3) rotate(90) scale(1.028,1)" font-family="Liberation Serif, serif" font-size="13.6" fill="#111" stroke="#111" stroke-width="0.15">96-97</text>
<text transform="translate(314.68,457.3) rotate(90) scale(1.028,1)" font-family="Liberation Serif, serif" font-size="13.6" fill="#111" stroke="#111" stroke-width="0.15">97-98</text>
<text transform="translate(330.72,457.3) rotate(90) scale(1.028,1)" font-family="Liberation Serif, serif" font-size="13.6" fill="#111" stroke="#111" stroke-width="0.15">98-99</text>
<text transform="translate(346.76,457.3) rotate(90) scale(1.028,1)" font-family="Liberation Serif, serif" font-size="13.6" fill="#111" stroke="#111" stroke-width="0.15">99</text>
<text transform="translate(362.80,457.3) rotate(90) scale(1.028,1)" font-family="Liberation Serif, serif" font-size="13.6" fill="#111" stroke="#111" stroke-width="0.15">99-00</text>
<text transform="translate(378.84,457.3) rotate(90) scale(1.028,1)" font-family="Liberation Serif, serif" font-size="13.6" fill="#111" stroke="#111" stroke-width="0.15">00</text>
<text transform="translate(394.88,457.3) rotate(90) scale(1.028,1)" font-family="Liberation Serif, serif" font-size="13.6" fill="#111" stroke="#111" stroke-width="0.15">00-01</text>
<text transform="translate(410.92,457.3) rotate(90) scale(1.028,1)" font-family="Liberation Serif, serif" font-size="13.6" fill="#111" stroke="#111" stroke-width="0.15">01</text>
<text transform="translate(426.96,457.3) rotate(90) scale(1.028,1)" font-family="Liberation Serif, serif" font-size="13.6" fill="#111" stroke="#111" stroke-width="0.15">01-02</text>
<text transform="translate(443.00,457.3) rotate(90) scale(1.028,1)" font-family="Liberation Serif, serif" font-size="13.6" fill="#111" stroke="#111" stroke-width="0.15">02</text>
<text transform="translate(459.04,457.3) rotate(90) scale(1.028,1)" font-family="Liberation Serif, serif" font-size="13.6" fill="#111" stroke="#111" stroke-width="0.15">02-03</text>
<text transform="translate(475.08,457.3) rotate(90) scale(1.028,1)" font-family="Liberation Serif, serif" font-size="13.6" fill="#111" stroke="#111" stroke-width="0.15">03</text>
<text transform="translate(491.12,457.3) rotate(90) scale(1.028,1)" font-family="Liberation Serif, serif" font-size="13.6" fill="#111" stroke="#111" stroke-width="0.15">03-04</text>
<text transform="translate(507.16,457.3) rotate(90) scale(1.028,1)" font-family="Liberation Serif, serif" font-size="13.6" fill="#111" stroke="#111" stroke-width="0.15">04</text>
<text transform="translate(523.20,457.3) rotate(90) scale(1.028,1)" font-family="Liberation Serif, serif" font-size="13.6" fill="#111" stroke="#111" stroke-width="0.15">04-05</text>
<text transform="translate(539.24,457.3) rotate(90) scale(1.028,1)" font-family="Liberation Serif, serif" font-size="13.6" fill="#111" stroke="#111" stroke-width="0.15">05</text>
<text transform="translate(555.28,457.3) rotate(90) scale(1.028,1)" font-family="Liberation Serif, serif" font-size="13.6" fill="#111" stroke="#111" stroke-width="0.15">05-06</text>
<text transform="translate(571.32,457.3) rotate(90) scale(1.028,1)" font-family="Liberation Serif, serif" font-size="13.6" fill="#111" stroke="#111" stroke-width="0.15">06</text>
<text transform="translate(587.36,457.3) rotate(90) scale(1.028,1)" font-family="Liberation Serif, serif" font-size="13.6" fill="#111" stroke="#111" stroke-width="0.15">06-07</text>
<text transform="translate(603.40,457.3) rotate(90) scale(1.028,1)" font-family="Liberation Serif, serif" font-size="13.6" fill="#111" stroke="#111" stroke-width="0.15">07</text>
<text transform="translate(619.44,457.3) rotate(90) scale(1.028,1)" font-family="Liberation Serif, serif" font-size="13.6" fill="#111" stroke="#111" stroke-width="0.15">07-08</text>
<text transform="translate(635.48,457.3) rotate(90) scale(1.028,1)" font-family="Liberation Serif, serif" font-size="13.6" fill="#111" stroke="#111" stroke-width="0.15">08</text>
<text transform="translate(651.52,457.3) rotate(90) scale(1.028,1)" font-family="Liberation Serif, serif" font-size="13.6" fill="#111" stroke="#111" stroke-width="0.15">08-09</text>
<text transform="translate(667.56,457.3) rotate(90) scale(1.028,1)" font-family="Liberation Serif, serif" font-size="13.6" fill="#111" stroke="#111" stroke-width="0.15">09</text>
<text x="306.6" y="509.8" font-family="Liberation Serif, serif" font-size="17" fill="#111" textLength="114.8" lengthAdjust="spacingAndGlyphs">Influenza Season</text>
</svg>
</body></html>
